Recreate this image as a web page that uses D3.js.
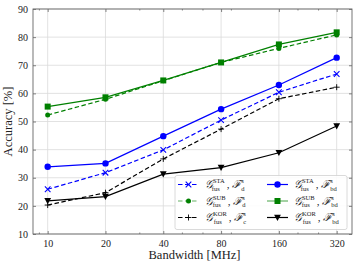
<!DOCTYPE html>
<html>
  <head>
    <meta charset="utf-8">
    <title>Accuracy vs bandwidth</title>
    <script src="https://d3js.org/d3.v7.min.js"></script>
    <style>
      body { margin: 0; background: #fff; }
      svg text { font-family: "Liberation Serif", "DejaVu Serif", serif; fill: #222; }
    </style>
  </head>
  <body>
    <div id="grafico"></div>
    <script>
      // valores
      const larguras = [10, 20, 40, 80, 160, 320]
      const ticksY = [10, 20, 30, 40, 50, 60, 70, 80, 90]
      const ticksMenoresX = [9, 30, 50, 64, 90, 200, 256]

      const staD   = [25.9, 31.8, 39.9, 50.5, 60.4, 66.9]
      const subD   = [52.3, 57.9, 64.5, 71.0, 76.0, 80.8]
      const korC   = [20.3, 24.7, 36.7, 47.3, 58.1, 62.2]
      const staBd  = [33.9, 35.1, 44.8, 54.4, 63.0, 72.7]
      const subBd  = [55.3, 58.6, 64.6, 71.0, 77.4, 81.7]
      const korBd  = [21.8, 23.3, 31.3, 33.6, 38.9, 48.4]

      const series = [
        { valores: staD,  cor: '#0000ff', tracejado: true,  marca: 'x',   sup: 'STA', f: 'd' },
        { valores: subD,  cor: '#008000', tracejado: true,  marca: 'dot', sup: 'SUB', f: 'd' },
        { valores: korC,  cor: '#000000', tracejado: true,  marca: '+',   sup: 'KOR', f: 'c' },
        { valores: staBd, cor: '#0000ff', tracejado: false, marca: 'o',   sup: 'STA', f: 'bd' },
        { valores: subBd, cor: '#008000', tracejado: false, marca: 's',   sup: 'SUB', f: 'bd' },
        { valores: korBd, cor: '#000000', tracejado: false, marca: 'v',   sup: 'KOR', f: 'bd' }
      ]

      const largura = 357, altura = 266
      const area = { esq: 33, dir: 352, topo: 9, base: 234 }

      const svg = d3.select('#grafico').append('svg')
        .attr('width', largura).attr('height', altura)

      const x = d3.scaleLog().base(2)
        .domain([10 / Math.pow(2, 0.254), 320 * Math.pow(2, 0.265)])
        .range([area.esq, area.dir])
      const y = d3.scaleLinear().domain([10, 90]).range([area.base, area.topo])

      // grade
      const grade = svg.append('g').attr('stroke', '#dadada').attr('stroke-width', 0.8)
      grade.selectAll('.gx').data(larguras).join('line')
        .attr('x1', d => x(d)).attr('x2', d => x(d))
        .attr('y1', area.topo).attr('y2', area.base)
      grade.selectAll('.gy').data(ticksY).join('line')
        .attr('x1', area.esq).attr('x2', area.dir)
        .attr('y1', d => y(d)).attr('y2', d => y(d))

      // eixos (ticks para dentro, nos quatro lados)
      const corEixo = '#666'
      const eixoX = d3.axisBottom(x).tickValues(larguras).tickFormat(d3.format('d'))
        .tickSizeInner(-3).tickSizeOuter(0).tickPadding(6)
      const eixoXtopo = d3.axisTop(x).tickValues(larguras).tickFormat('')
        .tickSizeInner(-3).tickSizeOuter(0)
      const eixoY = d3.axisLeft(y).tickValues(ticksY).tickFormat(d3.format('d'))
        .tickSizeInner(-3).tickSizeOuter(0).tickPadding(5)
      const eixoYdir = d3.axisRight(y).tickValues(ticksY).tickFormat('')
        .tickSizeInner(-3).tickSizeOuter(0)

      const menorX = d3.axisBottom(x).tickValues(ticksMenoresX).tickFormat('')
        .tickSizeInner(-1.5).tickSizeOuter(0)
      const menorXtopo = d3.axisTop(x).tickValues(ticksMenoresX).tickFormat('')
        .tickSizeInner(-1.5).tickSizeOuter(0)

      function estilo(g) {
        g.select('.domain').remove()
        g.selectAll('line').attr('stroke', corEixo).attr('stroke-width', 0.8)
        g.selectAll('text').attr('font-size', 10).attr('fill', '#222')
          .attr('font-family', '"Liberation Serif", serif')
      }

      svg.append('g').attr('transform', `translate(0,${area.base})`).call(eixoX).call(estilo)
      svg.append('g').attr('transform', `translate(0,${area.topo})`).call(eixoXtopo).call(estilo)
      svg.append('g').attr('transform', `translate(0,${area.base})`).call(menorX).call(estilo)
      svg.append('g').attr('transform', `translate(0,${area.topo})`).call(menorXtopo).call(estilo)
      svg.append('g').attr('transform', `translate(${area.esq},0)`).call(eixoY).call(estilo)
      svg.append('g').attr('transform', `translate(${area.dir},0)`).call(eixoYdir).call(estilo)

      svg.append('rect')
        .attr('x', area.esq).attr('y', area.topo)
        .attr('width', area.dir - area.esq).attr('height', area.base - area.topo)
        .attr('fill', 'none').attr('stroke', corEixo).attr('stroke-width', 0.9)

      // rótulos dos eixos
      svg.append('text')
        .attr('x', (area.esq + area.dir) / 2 + 2).attr('y', 259)
        .attr('text-anchor', 'middle').attr('font-size', 12.5)
        .text('Bandwidth [MHz]')
      svg.append('text')
        .attr('transform', `translate(12,${(area.topo + area.base) / 2}) rotate(-90)`)
        .attr('text-anchor', 'middle').attr('font-size', 12.5)
        .text('Accuracy [%]')

      function desenhaMarca(g, tipo, cor, cx, cy) {
        if (tipo === 'x') {
          g.append('path').attr('d', `M${cx - 2.8},${cy - 2.8}L${cx + 2.8},${cy + 2.8}M${cx - 2.8},${cy + 2.8}L${cx + 2.8},${cy - 2.8}`)
            .attr('stroke', cor).attr('stroke-width', 1.1)
        } else if (tipo === '+') {
          g.append('path').attr('d', `M${cx - 3},${cy}L${cx + 3},${cy}M${cx},${cy - 3}L${cx},${cy + 3}`)
            .attr('stroke', cor).attr('stroke-width', 0.9)
        } else if (tipo === 'dot') {
          g.append('circle').attr('cx', cx).attr('cy', cy).attr('r', 2.5).attr('fill', cor)
        } else if (tipo === 'o') {
          g.append('circle').attr('cx', cx).attr('cy', cy).attr('r', 3.2).attr('fill', cor)
        } else if (tipo === 's') {
          g.append('rect').attr('x', cx - 3).attr('y', cy - 3).attr('width', 6).attr('height', 6).attr('fill', cor)
        } else if (tipo === 'v') {
          g.append('path').attr('d', `M${cx - 3.4},${cy - 2.8}L${cx + 3.4},${cy - 2.8}L${cx},${cy + 3.4}Z`).attr('fill', cor)
        }
      }

      const linha = d3.line().x((d, i) => x(larguras[i])).y(d => y(d))

      const camadas = svg.append('g')
      series.forEach(s => {
        const g = camadas.append('g')
        g.append('path').attr('d', linha(s.valores))
          .attr('fill', 'none').attr('stroke', s.cor).attr('stroke-width', 1.2)
          .attr('stroke-dasharray', s.tracejado ? '4.5,2.5' : null)
        s.valores.forEach((v, i) => desenhaMarca(g, s.marca, s.cor, x(larguras[i]), y(v)))
      })

      // legenda
      const leg = svg.append('g')
      leg.append('rect')
        .attr('x', 175).attr('y', 175.5).attr('width', 172).attr('height', 54).attr('rx', 2)
        .attr('fill', 'white').attr('fill-opacity', 0.85)
        .attr('stroke', '#d0d0d0').attr('stroke-width', 0.8)

      series.forEach((s, i) => {
        const col = Math.floor(i / 3), row = i % 3
        const x0 = col === 0 ? 178 : 267
        const cy = 184.5 + row * 16.5
        const g = leg.append('g')
        g.append('line').attr('x1', x0).attr('x2', x0 + 21).attr('y1', cy).attr('y2', cy)
          .attr('stroke', s.cor).attr('stroke-width', 1.2)
          .attr('stroke-opacity', s.cor === '#008000' ? 0.6 : 1)
          .attr('stroke-dasharray', s.tracejado ? '4.5,2.5' : null)
        desenhaMarca(g, s.marca, s.cor, x0 + 10.5, cy)

        const t = g.append('text').attr('x', x0 + 27).attr('y', cy + 3.5).attr('font-size', 11)
          .attr('font-style', 'italic')
        t.append('tspan').text('𝒢')
        t.append('tspan').attr('font-size', 6.5).attr('font-style', 'normal').attr('dy', -5).text(s.sup)
        t.append('tspan').attr('font-size', 6.5).attr('font-style', 'normal')
          .attr('dx', -s.sup.length * 4.3).attr('dy', 7.5).text('fus')
        t.append('tspan').attr('font-style', 'normal').attr('dy', -2.5).attr('dx', 7).text(', ')
        t.append('tspan').text('ℱ')
        t.append('tspan').attr('font-size', 6.5).attr('font-style', 'normal').attr('dy', -5).text('s')
        t.append('tspan').attr('font-size', 6.5).attr('font-style', 'normal')
          .attr('dx', -2.5).attr('dy', 7.5).text(s.f)
      })
    </script>
  </body>
</html>
